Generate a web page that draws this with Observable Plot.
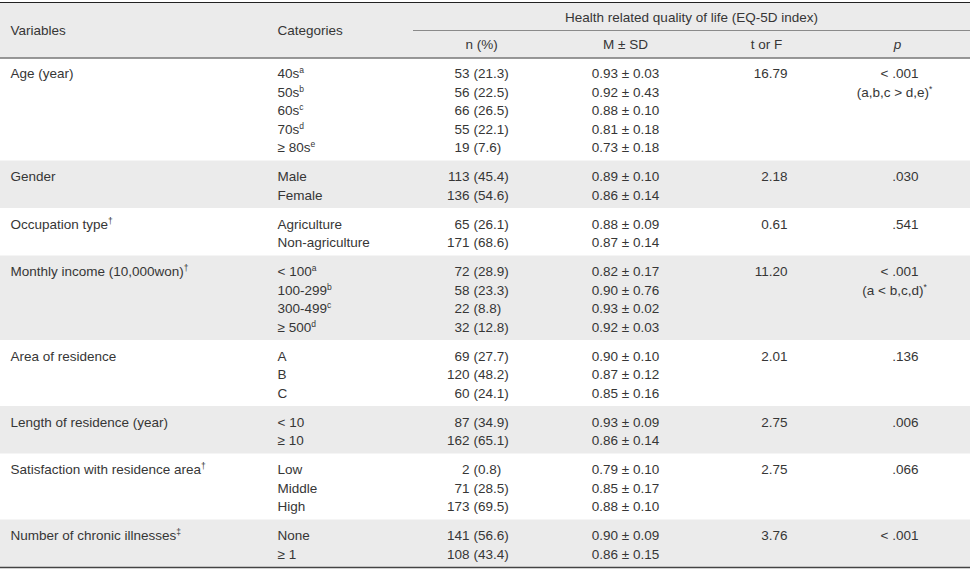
<!DOCTYPE html>
<html>
<head>
<meta charset="utf-8">
<script src="https://cdn.jsdelivr.net/npm/d3@7"></script>
<script src="https://cdn.jsdelivr.net/npm/@observablehq/plot@0.6"></script>
<style>
  html, body { margin: 0; padding: 0; background: #fff; }
  #chart svg { display: block; }
</style>
</head>
<body>
<div id="chart"></div>
<script>
const variables = [
  "Age (year)",
  "Gender",
  "Occupation type^†",
  "Monthly income (10,000won)^†",
  "Area of residence",
  "Length of residence (year)",
  "Satisfaction with residence area^†",
  "Number of chronic illnesses^‡"
];
const categories = [
  ["40s^a", "50s^b", "60s^c", "70s^d", "≥ 80s^e"],
  ["Male", "Female"],
  ["Agriculture", "Non-agriculture"],
  ["< 100^a", "100-299^b", "300-499^c", "≥ 500^d"],
  ["A", "B", "C"],
  ["< 10", "≥ 10"],
  ["Low", "Middle", "High"],
  ["None", "≥ 1"]
];
const counts = [[53, 56, 66, 55, 19], [113, 136], [65, 171], [72, 58, 22, 32], [69, 120, 60], [87, 162], [2, 71, 173], [141, 108]];
const percents = [[21.3, 22.5, 26.5, 22.1, 7.6], [45.4, 54.6], [26.1, 68.6], [28.9, 23.3, 8.8, 12.8], [27.7, 48.2, 24.1], [34.9, 65.1], [0.8, 28.5, 69.5], [56.6, 43.4]];
const means = [[0.93, 0.92, 0.88, 0.81, 0.73], [0.89, 0.86], [0.88, 0.87], [0.82, 0.90, 0.93, 0.92], [0.90, 0.87, 0.85], [0.93, 0.86], [0.79, 0.85, 0.88], [0.90, 0.86]];
const sds = [[0.03, 0.43, 0.10, 0.18, 0.18], [0.10, 0.14], [0.09, 0.14], [0.17, 0.76, 0.02, 0.03], [0.10, 0.12, 0.16], [0.09, 0.14], [0.10, 0.17, 0.10], [0.09, 0.15]];
const tOrF = ["16.79", "2.18", "0.61", "11.20", "2.01", "2.75", "2.75", "3.76"];
const pValues = ["< .001", ".030", ".541", "< .001", ".136", ".006", ".066", "< .001"];
const postHoc = ["(a,b,c > d,e)^*", "", "", "(a < b,c,d)^*", "", "", "", ""];
const spanHeader = "Health related quality of life (EQ-5D index)";
const leftHeaders = ["Variables", "Categories"];
const subHeaders = ["n (%)", "M ± SD", "t or F"];
const pHeader = "p";

// ---- Layout (row units) ----
const PAD_TOP = 16 / 18.5, PAD_BOTTOM = 13 / 18.5, HEADER = 3;
const rows = [], groups = [];
let cursor = 0;
variables.forEach((v, g) => {
  const start = cursor, first = start + PAD_TOP;
  categories[g].forEach((c, i) => rows.push({
    g, i, y: first + i,
    variable: i === 0 ? v : "",
    category: c,
    count: String(counts[g][i]),
    pct: "(" + percents[g][i].toFixed(1) + ")",
    msd: means[g][i].toFixed(2) + " ± " + sds[g][i].toFixed(2)
  }));
  const end = first + categories[g].length - 1 + PAD_BOTTOM;
  groups.push({g, start, end, first, stat: tOrF[g], p: pValues[g], post: postHoc[g]});
  cursor = end;
});
const bodyEnd = cursor;
const W = 970;
const X = {variables: 10, categories: 277, countEnd: 469, pctStart: 473, nHead: 481, msd: 625, tEnd: 787, tHead: 766, pEnd: 918, pMid: 896, span: 691, lineStart: 413};
const Y = {span: -3 + 15 / 18.5, spanRule: -3 + 28 / 18.5, left: -3 + 28 / 18.5, sub: -3 + 42 / 18.5};

const font = {fontSize: 13.5, fill: "#363636", lineAnchor: "middle"};
const shaded = groups.filter(d => d.g % 2 === 1);

const chart = Plot.plot({
  width: W, height: 571,
  margin: 0,
  style: {fontFamily: "'Liberation Sans', Arial, sans-serif", background: "#fff"},
  x: {type: "linear", domain: [0, W], range: [0, W], axis: null},
  y: {type: "linear", domain: [-HEADER, bodyEnd], range: [2, 567], axis: null},
  marks: [
    // header background and shaded group bands
    Plot.rect([{y1: -HEADER, y2: 0}], {x1: 0, x2: W, y1: "y1", y2: "y2", fill: "#ebebeb"}),
    Plot.rect(shaded, {x1: 0, x2: W, y1: "start", y2: "end", fill: "#ebebeb"}),
    // rules
    Plot.ruleY([-HEADER], {x1: 0, x2: W, stroke: "#222", strokeWidth: 1.2}),
    Plot.ruleY([0], {x1: 0, x2: W, stroke: "#333", strokeWidth: 1}),
    Plot.ruleY([bodyEnd], {x1: 0, x2: W, stroke: "#444", strokeWidth: 1.5}),
    Plot.ruleY([Y.spanRule], {x1: X.lineStart, x2: W, stroke: "#8a8a8a", strokeWidth: 1}),
    // header text
    Plot.text([spanHeader], {x: X.span, y: Y.span, text: d => d, textAnchor: "middle", ...font}),
    Plot.text(leftHeaders, {x: (d, i) => i === 0 ? X.variables : X.categories, y: Y.left, text: d => d, textAnchor: "start", ...font}),
    Plot.text(subHeaders, {x: (d, i) => [X.nHead, X.msd, X.tHead][i], y: Y.sub, text: d => d, textAnchor: "middle", ...font}),
    Plot.text([pHeader], {x: X.pMid + 1, y: Y.sub, text: d => d, textAnchor: "middle", fontStyle: "italic", ...font}),
    // body
    Plot.text(rows.filter(d => d.variable), {x: X.variables, y: "y", text: "variable", textAnchor: "start", ...font}),
    Plot.text(rows, {x: X.categories, y: "y", text: "category", textAnchor: "start", ...font}),
    Plot.text(rows, {x: X.countEnd, y: "y", text: "count", textAnchor: "end", ...font}),
    Plot.text(rows, {x: X.pctStart, y: "y", text: "pct", textAnchor: "start", ...font}),
    Plot.text(rows, {x: X.msd, y: "y", text: "msd", textAnchor: "middle", ...font}),
    Plot.text(groups, {x: X.tEnd, y: "first", text: "stat", textAnchor: "end", ...font}),
    Plot.text(groups, {x: X.pEnd, y: "first", text: "p", textAnchor: "end", ...font}),
    Plot.text(groups.filter(d => d.post), {x: X.pMid - 2, y: d => d.first + 1, text: "post", textAnchor: "middle", ...font})
  ]
});

// turn "base^sup" strings into real text with a superscript tspan
chart.querySelectorAll("text").forEach(t => {
  const s = t.textContent;
  if (!s.includes("^")) return;
  const [base, sup] = s.split("^");
  t.textContent = "";
  const ns = "http://www.w3.org/2000/svg";
  const a = document.createElementNS(ns, "tspan");
  a.textContent = base;
  const b = document.createElementNS(ns, "tspan");
  b.textContent = sup;
  b.setAttribute("font-size", "8.5");
  b.setAttribute("dy", "-5");
  t.appendChild(a);
  t.appendChild(b);
});

document.getElementById("chart").appendChild(chart);
</script>
</body>
</html>
